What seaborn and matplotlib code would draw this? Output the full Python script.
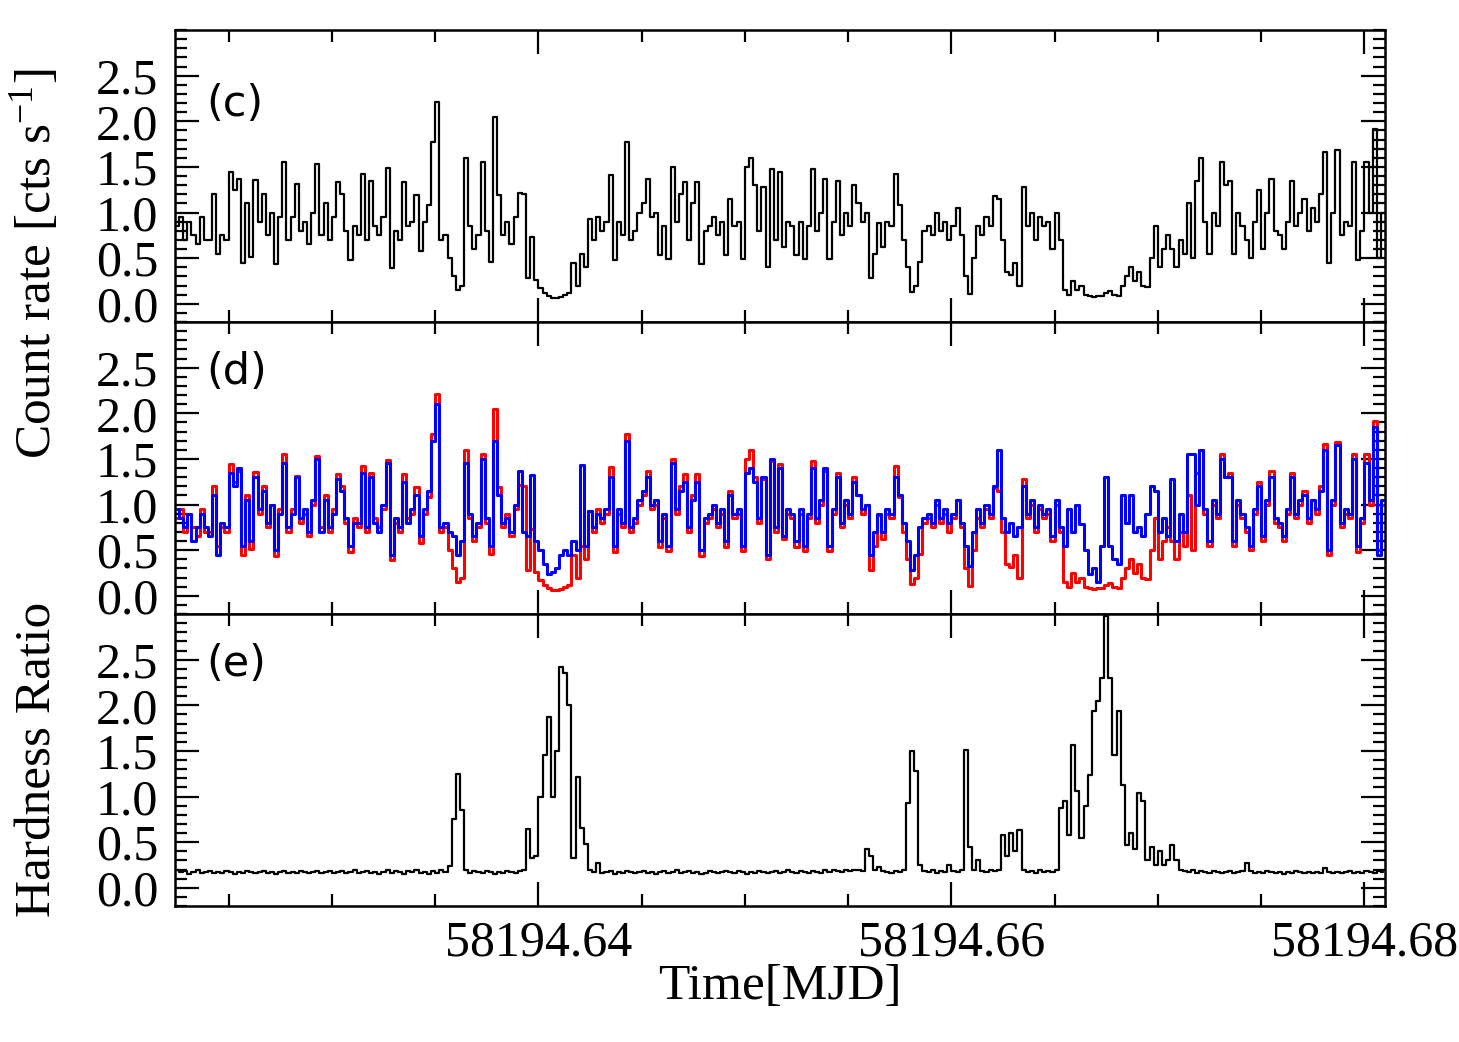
import numpy as np
import pandas as pd
import matplotlib
matplotlib.use("Agg")
import matplotlib.pyplot as plt
import seaborn as sns
from matplotlib.ticker import MultipleLocator, FixedLocator, FormatStrFormatter

# light curve binning (MJD)
t_start = 58194.6224
bin_width = 0.0002

# panel (c): total count rate
rate_total = [0.85, 0.95, 0.7, 0.9, 0.75, 0.65, 0.95, 0.7, 0.7, 1.2, 0.55, 0.75, 0.7, 1.44,
    1.25, 1.37, 0.45, 1.1, 0.51, 1.36, 0.9, 1.2, 0.75, 1.0,
    0.44, 0.95, 1.55, 0.7, 0.95, 1.31, 0.8, 0.9, 0.65, 1.0,
    1.53, 0.75, 1.1, 0.7, 0.95, 1.33, 1.2, 0.8, 0.48, 0.85,
    0.75, 1.42, 0.7, 1.34, 0.85, 0.75, 0.95, 1.49, 0.39, 0.8,
    0.7, 1.33, 0.85, 0.9, 1.19, 0.58, 0.9, 1.08, 1.77, 2.21,
    0.7, 0.75, 0.5, 0.3, 0.15, 0.2, 1.6, 0.85, 0.6, 0.75,
    1.55, 0.8, 0.46, 2.05, 1.19, 0.75, 0.9, 0.65, 0.95, 1.21,
    1.2, 0.28, 0.73, 0.26, 0.17, 0.12, 0.08, 0.06, 0.06, 0.07, 0.1, 0.12, 0.45, 0.2, 0.55, 0.4, 0.93,
    0.7, 0.95, 0.8, 0.9, 1.41, 0.48, 0.9, 0.75, 1.77, 0.7,
    0.8, 1.0, 1.1, 1.37, 0.95, 1.0, 0.53, 0.85, 0.49, 1.5,
    0.9, 1.2, 1.33, 0.7, 1.1, 1.33, 0.44, 0.8, 0.85, 0.95,
    0.75, 0.9, 0.53, 1.15, 0.85, 0.9, 0.49, 1.5, 1.6, 1.3,
    0.8, 1.28, 0.4, 1.48, 0.7, 1.44, 0.62, 0.9, 0.85, 0.53,
    0.9, 0.49, 0.85, 1.48, 0.8, 1.0, 1.37, 0.49, 0.9, 1.35,
    0.75, 1.0, 0.85, 1.3, 1.1, 0.9, 1.0, 0.28, 0.55, 0.88,
    0.62, 0.9, 0.85, 1.42, 1.08, 0.7, 0.4, 0.13, 0.2, 0.46,
    0.8, 0.85, 0.75, 1.0, 0.8, 0.9, 0.7, 0.85, 1.05, 0.75,
    0.3, 0.11, 0.5, 0.85, 0.75, 0.95, 0.85, 1.18, 1.15, 0.7,
    0.35, 0.31, 0.45, 0.2, 1.28, 0.85, 1.0, 0.7, 0.95, 0.85,
    0.9, 0.6, 1.0, 0.7, 0.15, 0.1, 0.25, 0.15, 0.2, 0.1,
    0.08, 0.07, 0.09, 0.08, 0.12, 0.14, 0.1, 0.08, 0.2, 0.3,
    0.4, 0.25, 0.35, 0.2, 0.18, 0.5, 0.85, 0.4, 0.6, 0.75,
    0.6, 0.4, 0.7, 0.55, 1.1, 0.5, 1.35, 1.6, 0.9, 0.55,
    1.0, 0.85, 1.55, 1.3, 1.35, 0.55, 1.0, 0.85, 0.7, 0.5,
    0.9, 1.25, 0.6, 1.0, 1.37, 0.8, 0.75, 0.6, 0.9, 1.35,
    0.85, 1.0, 1.15, 0.8, 1.05, 0.9, 1.2, 1.66, 0.45, 1.0,
    1.68, 0.75, 0.9, 0.85, 1.55, 0.48, 0.8, 1.55, 1.0, 1.92,
    0.5, 1.0]

# panel (d): red band is the same curve as (c), blue band below
rate_soft = rate_total
rate_hard = [0.95, 0.85, 0.75, 0.9, 0.6, 0.75, 0.9, 0.75, 0.65, 1.1, 0.45, 0.8, 0.75, 1.35,
    1.2, 1.4, 0.55, 1.05, 0.6, 1.3, 0.95, 1.15, 0.8, 1.0,
    0.5, 0.9, 1.45, 0.75, 0.9, 1.3, 0.85, 0.95, 0.7, 1.05,
    1.5, 0.7, 1.05, 0.75, 0.9, 1.28, 1.15, 0.85, 0.55, 0.8,
    0.8, 1.35, 0.75, 1.3, 0.8, 0.7, 1.0, 1.45, 0.45, 0.85,
    0.75, 1.25, 0.8, 0.95, 1.1, 0.65, 0.95, 1.15, 1.7, 2.1,
    0.75, 0.8, 0.7, 0.65, 0.45, 0.6, 1.45, 0.9, 0.65, 0.8,
    1.5, 0.85, 0.55, 1.7, 1.1, 0.8, 0.85, 0.7, 1.0, 1.37,
    0.7, 0.65, 1.32, 0.6, 0.5, 0.35, 0.24, 0.26, 0.3, 0.45, 0.5, 0.45, 0.6, 0.5, 1.43, 0.55, 0.93,
    0.75, 0.9, 0.85, 0.95, 1.3, 0.55, 0.95, 0.8, 1.7, 0.75,
    0.85, 1.05, 1.15, 1.3, 1.0, 1.05, 0.6, 0.9, 0.55, 1.45,
    0.95, 1.15, 1.25, 0.75, 1.05, 1.25, 0.5, 0.85, 0.9, 1.0,
    0.8, 0.95, 0.6, 1.1, 0.9, 0.95, 0.55, 1.35, 1.4, 1.25,
    0.85, 1.3, 0.45, 1.5, 0.75, 1.4, 0.65, 0.95, 0.9, 0.6,
    0.95, 0.55, 0.9, 1.4, 0.85, 1.05, 1.4, 0.55, 0.95, 1.3,
    0.8, 1.05, 0.9, 1.25, 1.1, 0.95, 1.0, 0.45, 0.7, 0.9,
    0.7, 0.95, 0.9, 1.3, 1.1, 0.8, 0.6, 0.28, 0.45, 0.75,
    0.85, 0.9, 0.8, 1.05, 0.85, 0.95, 0.8, 0.9, 1.05, 0.8,
    0.55, 0.33, 0.7, 0.95, 0.8, 1.0, 0.9, 1.2, 1.6, 0.85,
    0.7, 0.8, 0.65, 0.75, 1.2, 0.9, 1.05, 0.75, 1.0, 0.9,
    0.95, 0.65, 1.05, 0.75, 0.55, 0.95, 0.7, 1.0, 0.79, 0.5,
    0.24, 0.3, 0.15, 0.55, 1.3, 0.55, 0.4, 0.35, 1.1, 0.8,
    1.1, 0.7, 0.75, 0.65, 0.9, 1.2, 1.15, 0.7, 0.85, 0.65,
    1.28, 0.6, 0.9, 0.7, 1.55, 1.55, 1.0, 1.6, 0.95, 0.6,
    1.05, 0.9, 1.5, 1.3, 1.3, 0.6, 1.05, 0.9, 0.75, 0.55,
    0.95, 1.2, 0.65, 1.05, 1.3, 0.85, 0.8, 0.65, 0.95, 1.3,
    0.9, 1.05, 1.1, 0.85, 1.05, 0.95, 1.15, 1.6, 0.5, 1.05,
    1.65, 0.8, 0.95, 0.9, 1.5, 0.55, 0.85, 1.45, 1.05, 1.85,
    0.45, 1.05]

# panel (e): hardness ratio
hardness = [0.2, 0.17, 0.18, 0.15, 0.17, 0.19, 0.16, 0.17, 0.18, 0.16,
    0.17, 0.16, 0.18, 0.17, 0.15, 0.17, 0.16, 0.18, 0.17, 0.16,
    0.17, 0.18, 0.16, 0.17, 0.15, 0.17, 0.18, 0.16, 0.17, 0.16,
    0.18, 0.17, 0.16, 0.17, 0.18, 0.16, 0.17, 0.18, 0.16, 0.17,
    0.18, 0.16, 0.17, 0.19, 0.16, 0.17, 0.18, 0.16, 0.17, 0.15,
    0.17, 0.19, 0.16, 0.18, 0.17, 0.15, 0.18, 0.17, 0.2, 0.16,
    0.17, 0.15, 0.18, 0.16, 0.2, 0.17, 0.24,
    0.75, 1.25, 0.85, 0.2,
    0.16, 0.18, 0.17, 0.16, 0.18, 0.17, 0.15, 0.17, 0.16, 0.18, 0.17, 0.16, 0.18,
    0.2, 0.64, 0.33, 0.35, 1.0, 1.45, 1.87, 1.0, 1.5, 2.42, 2.35, 2.0, 0.33, 1.21, 0.66, 0.48, 0.2, 0.17, 0.27,
    0.16, 0.17, 0.18, 0.15, 0.17, 0.16, 0.18, 0.17, 0.16, 0.17,
    0.18, 0.16, 0.17, 0.15, 0.17, 0.18, 0.16, 0.17, 0.19, 0.16,
    0.17, 0.18, 0.16, 0.17, 0.15, 0.16, 0.18, 0.17, 0.16, 0.17,
    0.18, 0.17, 0.16, 0.18, 0.17, 0.15, 0.17, 0.16, 0.18, 0.17,
    0.16, 0.17, 0.18, 0.16, 0.17, 0.19, 0.17, 0.16, 0.18, 0.17,
    0.16, 0.18, 0.17, 0.16, 0.19, 0.17, 0.2, 0.18, 0.17, 0.19,
    0.18, 0.2, 0.19, 0.18,
    0.43, 0.35,
    0.2, 0.23, 0.18, 0.17, 0.16, 0.18, 0.17, 0.19,
    0.93, 1.5, 1.28, 0.25,
    0.18, 0.17, 0.19, 0.16, 0.18, 0.17, 0.25, 0.18, 0.17, 0.2,
    1.51, 0.45,
    0.2, 0.3, 0.18, 0.17, 0.19, 0.18, 0.2,
    0.58, 0.35, 0.6, 0.4, 0.63, 0.2,
    0.17, 0.18, 0.16, 0.19, 0.17, 0.18, 0.17, 0.2,
    0.87, 0.95, 0.58, 1.57, 1.06, 0.54, 0.9, 1.24, 1.94, 2.05,
    2.3, 2.98, 2.3, 1.46, 1.94, 1.13, 0.47, 0.6, 0.43, 1.04,
    0.95, 0.3, 0.45, 0.25, 0.4, 0.25, 0.3, 0.47, 0.3, 0.2,
    0.18, 0.17, 0.19, 0.16, 0.18, 0.17, 0.16, 0.18, 0.17, 0.16,
    0.17, 0.18, 0.16, 0.17, 0.18, 0.27, 0.18, 0.16, 0.17, 0.16,
    0.18, 0.17, 0.16, 0.17, 0.15, 0.17, 0.16, 0.18, 0.17, 0.16,
    0.17, 0.16, 0.17, 0.16, 0.22, 0.17, 0.16, 0.17, 0.16, 0.17,
    0.18, 0.16, 0.17, 0.16, 0.18, 0.17, 0.16, 0.18, 0.17]

n = len(rate_total)
time = t_start + (np.arange(n) + 0.5) * bin_width
df = pd.DataFrame({"time": time, "total": rate_total, "soft": rate_soft,
                   "hard": rate_hard, "hr": hardness})

sns.set_theme(style="ticks")
plt.rcParams['font.family'] = ['Liberation Serif', 'DejaVu Serif']
plt.rcParams['mathtext.fontset'] = 'custom'
plt.rcParams['mathtext.rm'] = 'Liberation Serif'
plt.rcParams['mathtext.it'] = 'Liberation Serif'
for key in ['text.color', 'axes.labelcolor', 'xtick.color', 'ytick.color', 'axes.edgecolor']:
    plt.rcParams[key] = 'black'

fig, axes = plt.subplots(3, 1, sharex=True, figsize=(14.59, 10.42), dpi=100)
fig.subplots_adjust(left=0.1199, right=0.9493, bottom=0.1305, top=0.9712, hspace=0)

sns.lineplot(data=df, x="time", y="total", ax=axes[0], color="black", lw=1.6,
             drawstyle="steps-mid", estimator=None, sort=False)
sns.lineplot(data=df, x="time", y="soft", ax=axes[1], color="#ff0000", lw=2.2,
             drawstyle="steps-mid", estimator=None, sort=False)
sns.lineplot(data=df, x="time", y="hard", ax=axes[1], color="#0000ff", lw=2.2,
             drawstyle="steps-mid", estimator=None, sort=False)
sns.lineplot(data=df, x="time", y="hr", ax=axes[2], color="black", lw=1.6,
             drawstyle="steps-mid", estimator=None, sort=False)

panel_tags = ["(c)", "(d)", "(e)"]
tag_y = [0.747, 0.829, 0.829]
for ax, tag, ty in zip(axes, panel_tags, tag_y):
    ax.set_xlim(58194.6224, 58194.6810)
    ax.set_ylim(-0.2, 3.0)
    ax.set_xlabel("")
    ax.set_ylabel("")
    ax.yaxis.set_major_locator(FixedLocator([0.0, 0.5, 1.0, 1.5, 2.0, 2.5]))
    ax.yaxis.set_minor_locator(MultipleLocator(0.1))
    ax.yaxis.set_major_formatter(FormatStrFormatter('%.1f'))
    ax.xaxis.set_major_locator(MultipleLocator(0.02))
    ax.xaxis.set_minor_locator(MultipleLocator(0.005))
    ax.xaxis.set_major_formatter(FormatStrFormatter('%.2f'))
    ax.tick_params(which='both', direction='in', top=True, right=True, width=1.6,
                   color='black')
    ax.tick_params(which='major', length=17)
    ax.tick_params(which='minor', length=8.5)
    ax.tick_params(axis='y', labelsize=36, pad=12, labelcolor='black')
    ax.tick_params(axis='x', labelsize=36, pad=10, labelcolor='black')
    for sp in ax.spines.values():
        sp.set_linewidth(1.8)
        sp.set_color('black')
    ax.text(0.026, ty, tag, transform=ax.transAxes, family='DejaVu Sans',
            fontsize=31, ha='left', va='center', color='black')

fig.text(0.024, 0.747, r'Count rate [cts s$^{-1}$]', rotation=90,
         ha='center', va='center', fontsize=37, color='black')
fig.text(0.026, 0.271, 'Hardness Ratio', rotation=90,
         ha='center', va='center', fontsize=37, color='black')
fig.text(0.5346, 0.053, 'Time[MJD]', ha='center', va='center', fontsize=37,
         color='black')

plt.savefig("out.png", dpi=100)
